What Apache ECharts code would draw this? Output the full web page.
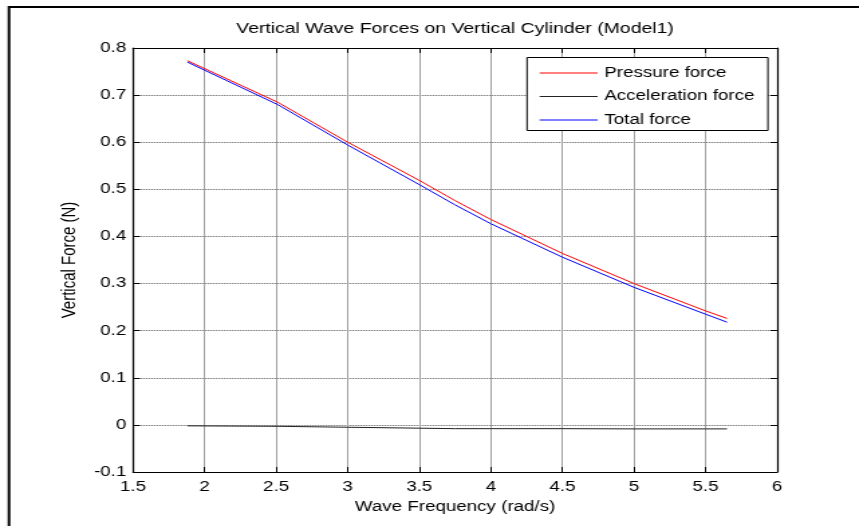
<!DOCTYPE html>
<html>
<head>
<meta charset="utf-8">
<script src="https://cdn.jsdelivr.net/npm/echarts@6/dist/echarts.min.js"></script>
<style>
  html, body { margin: 0; padding: 0; background: #fff; overflow: hidden; }
  /* The figure is laid out on a narrower canvas and stretched horizontally. */
  #chart { width: 641px; height: 526px; transform: scaleX(1.34); transform-origin: 0 0; }
</style>
</head>
<body>
<div id="chart"></div>
<script>
// Wave frequency samples (rad/s)
const frequency = [1.88, 2.51, 3.0, 3.5, 3.75, 4.0, 4.5, 5.0, 5.5, 5.65];
// Vertical force components (N)
const pressureForce = [0.773, 0.685, 0.600, 0.519, 0.476, 0.436, 0.364, 0.300, 0.242, 0.226];
const accelerationForce = [-0.002, -0.003, -0.005, -0.007, -0.008, -0.008, -0.008, -0.0085, -0.0085, -0.0085];
const totalForce = [0.770, 0.680, 0.594, 0.510, 0.467, 0.427, 0.356, 0.292, 0.235, 0.218];

const seriesNames = ['Pressure force', 'Acceleration force', 'Total force'];
const seriesColors = ['#ff0000', '#222222', '#0000ff'];
const seriesValues = [pressureForce, accelerationForce, totalForce];

const FONT = 'Liberation Sans, Arial, Helvetica, sans-serif';

const chart = echarts.init(document.getElementById('chart'), null, { renderer: 'canvas' });

const tickStyle = { show: true, inside: true, length: 5, lineStyle: { color: '#000', width: 1 } };
const axisLineStyle = { show: true, onZero: false, lineStyle: { color: '#000', width: 1.2 } };

chart.setOption({
  animation: false,
  backgroundColor: '#fff',
  grid: { left: 99.3, top: 48, right: 61.1, bottom: 54, containLabel: false },
  xAxis: [
    {
      type: 'value', min: 1.5, max: 6, interval: 0.5,
      position: 'bottom',
      name: 'Wave Frequency (rad/s)', nameLocation: 'middle', nameGap: 28,
      nameTextStyle: { fontFamily: FONT, fontSize: 14, color: '#000' },
      axisLine: axisLineStyle,
      axisTick: tickStyle,
      axisLabel: { margin: 8, fontFamily: FONT, fontSize: 14, color: '#000',
                   formatter: v => String(+v.toFixed(1)) },
      splitLine: { show: true, lineStyle: { color: '#a0a0a0', width: 1, type: 'solid' } }
    },
    {
      type: 'value', min: 1.5, max: 6, interval: 0.5,
      position: 'top',
      axisLine: axisLineStyle,
      axisTick: tickStyle,
      axisLabel: { show: false },
      splitLine: { show: false }
    }
  ],
  yAxis: [
    {
      type: 'value', min: -0.1, max: 0.8, interval: 0.1,
      position: 'left',
      name: 'Vertical Force (N)', nameLocation: 'middle', nameGap: 37,
      nameTextStyle: { fontFamily: FONT, fontSize: 15, color: '#000' },
      axisLine: axisLineStyle,
      axisTick: tickStyle,
      axisLabel: { margin: 5, fontFamily: FONT, fontSize: 14, color: '#000',
                   formatter: v => String(+v.toFixed(1)) },
      splitLine: { show: true, lineStyle: { color: '#555', width: 1, type: [1, 1] } }
    },
    {
      type: 'value', min: -0.1, max: 0.8, interval: 0.1,
      position: 'right',
      axisLine: axisLineStyle,
      axisTick: tickStyle,
      axisLabel: { show: false },
      splitLine: { show: false }
    }
  ],
  legend: {
    orient: 'vertical',
    left: 402.2, top: 66,
    itemWidth: 43.3, itemHeight: 14, itemGap: 9.5,
    padding: 0,
    z: 5,
    itemStyle: { opacity: 0 },
    lineStyle: { width: 1 },
    textStyle: { fontFamily: FONT, fontSize: 14, color: '#000', padding: [0, 0, 0, 0] },
    data: seriesNames
  },
  graphic: [
    {
      type: 'rect', z: 0,
      shape: { x: 6.7, y: 7, width: 700, height: 600 },
      style: { fill: 'none', stroke: '#000', lineWidth: 2 }
    },
    {
      type: 'rect', z: 4,
      shape: { x: 393.3, y: 57.5, width: 179.8, height: 73 },
      style: { fill: '#fff', stroke: '#000', lineWidth: 1 }
    },
    {
      type: 'text', z: 5,
      x: 339.6, y: 36,
      style: {
        text: 'Vertical Wave Forces on Vertical Cylinder (Model1)',
        fontFamily: FONT, fontSize: 14.5, fill: '#000',
        textAlign: 'center', textVerticalAlign: 'bottom'
      }
    }
  ],
  series: seriesNames.map((n, i) => ({
    name: n,
    type: 'line',
    xAxisIndex: 0, yAxisIndex: 0,
    symbol: 'none',
    showSymbol: false,
    smooth: false,
    z: 3,
    color: seriesColors[i],
    lineStyle: { color: seriesColors[i], width: 1 },
    data: frequency.map((f, k) => [f, seriesValues[i][k]])
  }))
});
</script>
</body>
</html>
